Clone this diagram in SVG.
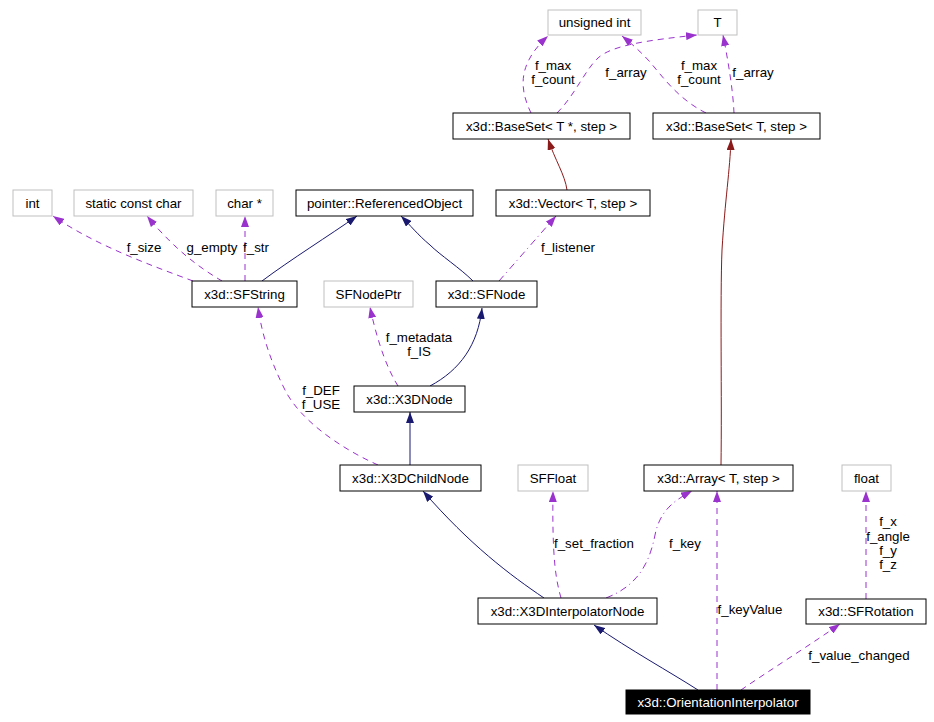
<svg xmlns="http://www.w3.org/2000/svg" width="934" height="722" viewBox="0 0 934 722">
<style>
text{font-family:"Liberation Sans",Arial,sans-serif;font-size:13.3px;fill:#000}
.n text{text-anchor:middle}
.b{fill:#fff;stroke:#000;stroke-width:1}
.g{fill:#fff;stroke:#bfbfbf;stroke-width:1}
.k{fill:#000;stroke:#000}
.k+text{fill:#fff}
.e path{fill:none;stroke-width:1}
.u{stroke:#9a32cd;stroke-dasharray:6,5;marker-end:url(#ap)}
.ud{stroke:#9a32cd;stroke-dasharray:7,4,1,4;marker-end:url(#ap)}
.i{stroke:#191970;marker-end:url(#an)}
.r{stroke:#8b1a1a;marker-end:url(#ar)}
.l{text-anchor:middle}
</style>
<defs>
<marker id="ap" markerUnits="userSpaceOnUse" markerWidth="12" markerHeight="8" refX="11" refY="4" orient="auto"><path d="M0,0 L11,4 L0,8 z" fill="#9a32cd"/></marker>
<marker id="an" markerUnits="userSpaceOnUse" markerWidth="12" markerHeight="8" refX="11" refY="4" orient="auto"><path d="M0,0 L11,4 L0,8 z" fill="#191970"/></marker>
<marker id="ar" markerUnits="userSpaceOnUse" markerWidth="12" markerHeight="8" refX="11" refY="4" orient="auto"><path d="M0,0 L11,4 L0,8 z" fill="#8b1a1a"/></marker>
</defs>
<rect width="934" height="722" fill="#fff"/>
<g id="edges" class="e">
<path class="u" d="M531,113 C521,92 515,66 548,36"/>
<path class="u" d="M557,113 C575,95 585,70 598,58 C612,45 650,40 697,35"/>
<path class="u" d="M706,113 C680,100 665,80 650,62 C641,52 632,44 622,36"/>
<path class="u" d="M734,113 C733,90 728,60 723,35"/>
<path class="r" d="M567,190 C565,175 555,160 548,139"/>
<path class="r" d="M721,465 C722,400 720,300 722,250 C725,200 730,170 731,139"/>
<path class="i" d="M262,281 C290,260 330,235 357,216"/>
<path class="i" d="M473,281 C460,268 440,255 430,245 C418,235 410,225 401,216"/>
<path class="ud" d="M499,281 L556,216"/>
<path class="u" d="M193,281 C150,265 95,245 53,216"/>
<path class="u" d="M222,281 C200,268 175,250 147,216"/>
<path class="u" d="M245,281 L245,216"/>
<path class="u" d="M398,386 C388,370 378,345 370,307"/>
<path class="i" d="M430,386 C460,370 478,345 482,308"/>
<path class="i" d="M410,465 L410,412"/>
<path class="u" d="M378,465 C340,448 300,420 285,390 C270,360 262,335 258,307"/>
<path class="i" d="M544,598 C510,575 470,545 423,491"/>
<path class="u" d="M561,598 C556,580 552,560 553,491"/>
<path class="ud" d="M606,598 C640,585 650,560 655,535 C660,510 675,500 692,491"/>
<path class="i" d="M698,690 C670,672 630,650 594,625"/>
<path class="u" d="M717,690 L717,491"/>
<path class="u" d="M741,690 C770,670 810,645 840,624"/>
<path class="u" d="M866,599 L866,491"/>
<g>
<text class="l" x="553" y="70">f_max</text><text class="l" x="553" y="84">f_count</text>
<text class="l" x="626" y="77">f_array</text>
<text class="l" x="699" y="70">f_max</text><text class="l" x="699" y="84">f_count</text>
<text class="l" x="753" y="77">f_array</text>
<text class="l" x="144" y="252">f_size</text>
<text class="l" x="212" y="252">g_empty</text>
<text class="l" x="256" y="252">f_str</text>
<text class="l" x="568" y="252">f_listener</text>
<text class="l" x="419" y="342">f_metadata</text><text class="l" x="419" y="356">f_IS</text>
<text class="l" x="321" y="395">f_DEF</text><text class="l" x="321" y="409">f_USE</text>
<text x="554" y="548">f_set_fraction</text>
<text class="l" x="685" y="548">f_key</text>
<text class="l" x="750" y="614">f_keyValue</text>
<text class="l" x="888" y="526">f_x</text><text class="l" x="888" y="541">f_angle</text><text class="l" x="888" y="555">f_y</text><text class="l" x="888" y="569">f_z</text>
<text class="l" x="859" y="660">f_value_changed</text>
</g>
</g>
<g id="n_uint" class="n"><rect class="g" x="548" y="10" width="93" height="25"/><text x="594.5" y="27">unsigned int</text></g>
<g id="n_T" class="n"><rect class="g" x="698" y="10" width="39" height="25"/><text x="717.5" y="27">T</text></g>
<g id="n_basesetptr" class="n"><rect class="b" x="453" y="113" width="177" height="26"/><text x="541.5" y="131">x3d::BaseSet&lt; T *, step &gt;</text></g>
<g id="n_baseset" class="n"><rect class="b" x="653" y="113" width="167" height="26"/><text x="736.5" y="131">x3d::BaseSet&lt; T, step &gt;</text></g>
<g id="n_int" class="n"><rect class="g" x="13" y="190" width="39" height="26"/><text x="32.5" y="208">int</text></g>
<g id="n_scc" class="n"><rect class="g" x="74" y="190" width="119" height="26"/><text x="133.5" y="208">static const char</text></g>
<g id="n_charp" class="n"><rect class="g" x="216" y="190" width="57" height="26"/><text x="244.5" y="208">char *</text></g>
<g id="n_refobj" class="n"><rect class="b" x="296" y="190" width="177" height="26"/><text x="384.5" y="208">pointer::ReferencedObject</text></g>
<g id="n_vector" class="n"><rect class="b" x="496" y="190" width="154" height="26"/><text x="573" y="208">x3d::Vector&lt; T, step &gt;</text></g>
<g id="n_sfstring" class="n"><rect class="b" x="192" y="281" width="105" height="26"/><text x="244.5" y="299">x3d::SFString</text></g>
<g id="n_sfnodeptr" class="n"><rect class="g" x="324" y="281" width="89" height="26"/><text x="368.5" y="299">SFNodePtr</text></g>
<g id="n_sfnode" class="n"><rect class="b" x="436" y="281" width="101" height="26"/><text x="486.5" y="299">x3d::SFNode</text></g>
<g id="n_x3dnode" class="n"><rect class="b" x="354" y="386" width="111" height="26"/><text x="409.5" y="404">x3d::X3DNode</text></g>
<g id="n_childnode" class="n"><rect class="b" x="340" y="465" width="141" height="26"/><text x="410.5" y="483">x3d::X3DChildNode</text></g>
<g id="n_sffloat" class="n"><rect class="g" x="518" y="465" width="70" height="26"/><text x="553" y="483">SFFloat</text></g>
<g id="n_array" class="n"><rect class="b" x="644" y="465" width="149" height="26"/><text x="718.5" y="483">x3d::Array&lt; T, step &gt;</text></g>
<g id="n_float" class="n"><rect class="g" x="842" y="465" width="49" height="26"/><text x="866.5" y="483">float</text></g>
<g id="n_interp" class="n"><rect class="b" x="478" y="598" width="179" height="26"/><text x="567.5" y="616">x3d::X3DInterpolatorNode</text></g>
<g id="n_sfrot" class="n"><rect class="b" x="806" y="599" width="120" height="25"/><text x="866" y="616">x3d::SFRotation</text></g>
<g id="n_orient" class="n"><rect class="k" x="626" y="690" width="184" height="24"/><text x="718" y="707">x3d::OrientationInterpolator</text></g>
</svg>
